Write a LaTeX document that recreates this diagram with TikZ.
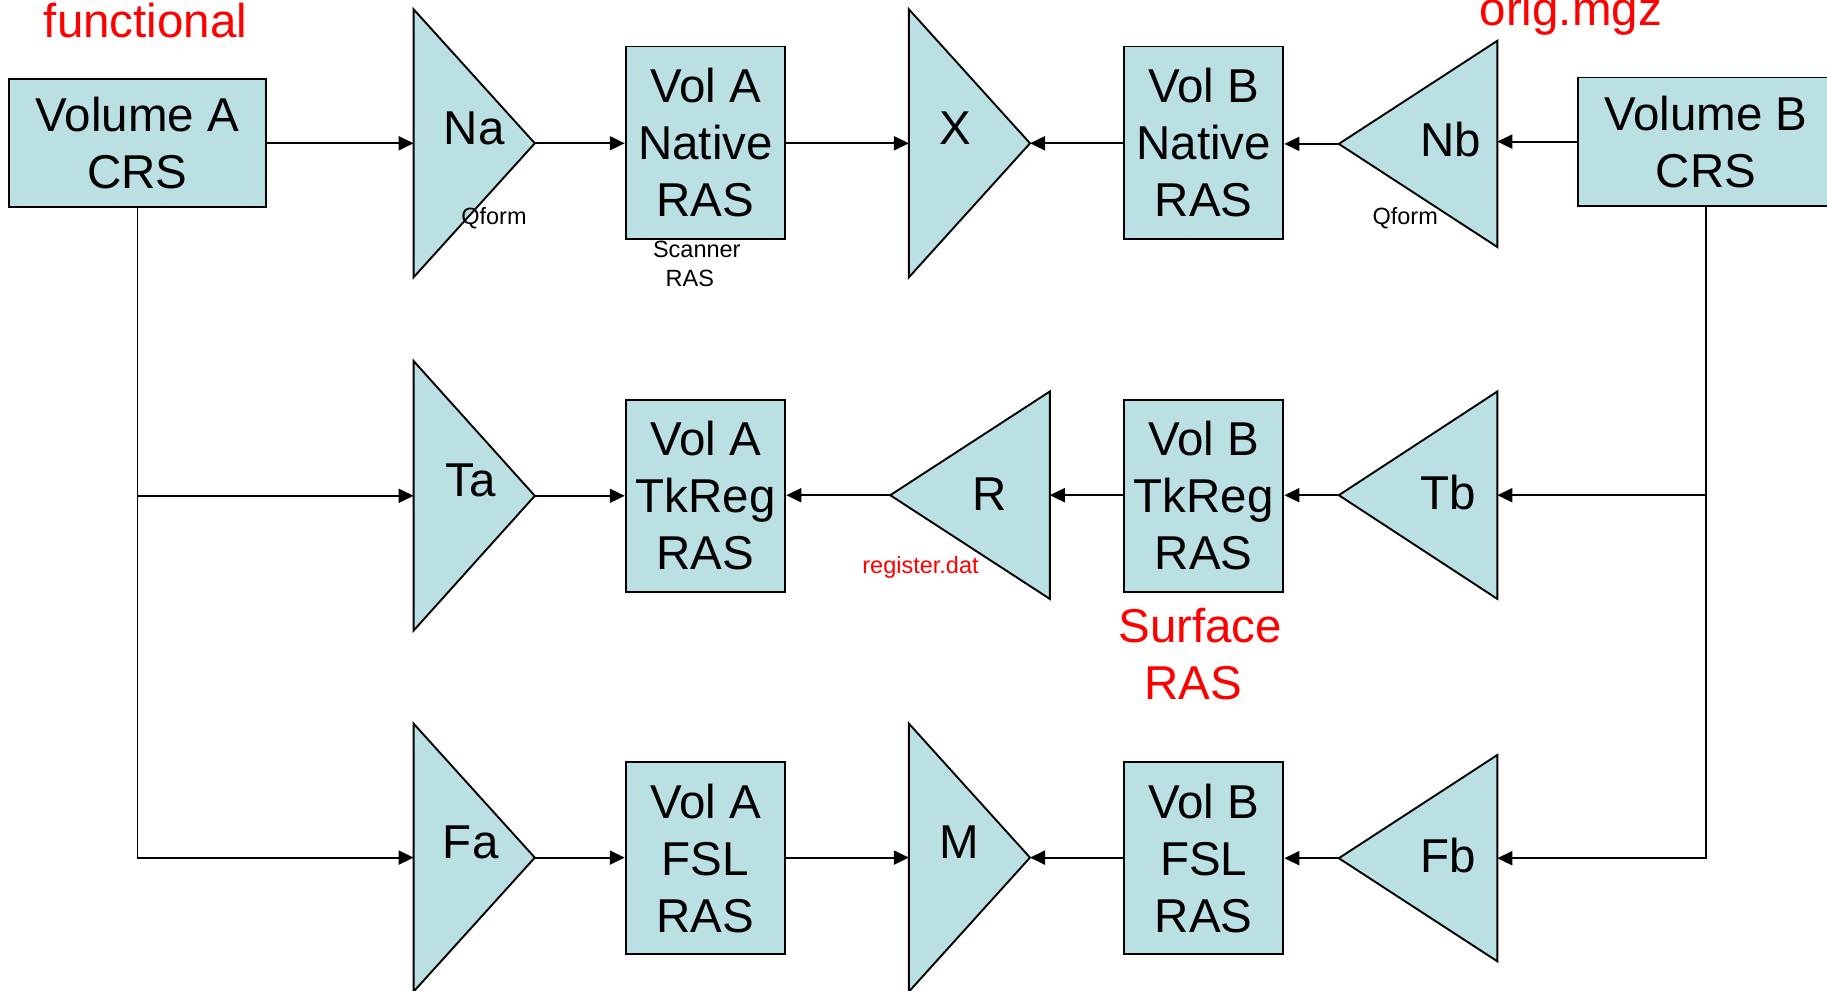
\documentclass[tikz,border=0pt]{standalone}
\usepackage{fontspec}
\setmainfont{Liberation Sans}
\usetikzlibrary{arrows.meta}
\definecolor{boxfill}{RGB}{186,224,227}
\definecolor{lblred}{RGB}{255,0,0}
\begin{document}
\begin{tikzpicture}[x=1pt,y=-1pt,
  big/.style={font=\fontsize{47.5}{57}\selectfont},
  small/.style={font=\fontsize{23.5}{28}\selectfont, inner sep=0pt},
  box/.style={draw=black, line width=1.9pt, fill=boxfill, minimum width=159.6pt, minimum height=192.3pt, inner sep=0pt, align=center, big},
  volbox/.style={box, minimum width=256.4pt, minimum height=128.2pt},
  tri/.style={draw=black, line width=1.9pt, fill=boxfill, line join=miter},
  lbl/.style={big, inner sep=0pt},
  redlbl/.style={big, text=lblred, inner sep=0pt},
  conn/.style={line width=1.9pt, -{Triangle[length=15pt,width=14pt]}},
  plain/.style={line width=1.9pt}
]
\useasboundingbox (0,0) rectangle (1827,990);
\clip (0,0) rectangle (1827,990);
\fill[white] (0,0) rectangle (1827,990);

% ---- triangles (A side, pointing right)
\path[tri] (413.6,9.3) -- (534.8,143.3) -- (413.6,277.3) -- cycle;
\coordinate (Na-in) at (413.6,143.3); \coordinate (Na-out) at (534.8,143.3);
\path[tri] (413.6,361) -- (534.8,495.8) -- (413.6,630.6) -- cycle;
\coordinate (Ta-in) at (413.6,495.8); \coordinate (Ta-out) at (534.8,495.8);
\path[tri] (413.6,723.6) -- (534.8,857.6) -- (413.6,991.6) -- cycle;
\coordinate (Fa-in) at (413.6,857.6); \coordinate (Fa-out) at (534.8,857.6);
\path[tri] (908.9,9.3) -- (1030,143.3) -- (908.9,277.3) -- cycle;
\coordinate (X-in) at (908.9,143.3); \coordinate (X-out) at (1030,143.3);
\path[tri] (908.9,723.6) -- (1030,857.6) -- (908.9,991.6) -- cycle;
\coordinate (M-in) at (908.9,857.6); \coordinate (M-out) at (1030,857.6);

% ---- triangles (B side, pointing left)
\path[tri] (1497.3,40.8) -- (1338.8,143.9) -- (1497.3,247) -- cycle;
\coordinate (Nb-in) at (1497.3,143.9); \coordinate (Nb-out) at (1338.8,143.9);
\path[tri] (1497.3,391.5) -- (1338.8,495.2) -- (1497.3,598.9) -- cycle;
\coordinate (Tb-in) at (1497.3,495.2); \coordinate (Tb-out) at (1338.8,495.2);
\path[tri] (1497.3,755) -- (1338.8,858.2) -- (1497.3,961.3) -- cycle;
\coordinate (Fb-in) at (1497.3,858.2); \coordinate (Fb-out) at (1338.8,858.2);
\path[tri] (1049.8,391.5) -- (890.2,495.2) -- (1049.8,598.9) -- cycle;
\coordinate (R-in) at (1049.8,495.2); \coordinate (R-out) at (890.2,495.2);

% ---- boxes
\node[volbox] (VolA) at (137.5,143.3) {Volume A\\CRS};
\node[volbox] (VolB) at (1705.9,141.6) {Volume B\\CRS};
\node[box] (ANat) at (705.5,142.7) {Vol A\\Native\\RAS};
\node[box] (ATk)  at (705.5,495.8) {Vol A\\TkReg\\RAS};
\node[box] (AFsl) at (705.5,858.1) {Vol A\\FSL\\RAS};
\node[box] (BNat) at (1203.6,142.7) {Vol B\\Native\\RAS};
\node[box] (BTk)  at (1203.6,495.8) {Vol B\\TkReg\\RAS};
\node[box] (BFsl) at (1203.6,858.1) {Vol B\\FSL\\RAS};

% ---- triangle labels
\node[lbl] (lNa) at (474.2,128.6) {Na};
\node[lbl] (lX)  at (955.5,128.2) {X};
\node[lbl] (lNb) at (1450.7,139.8) {Nb};
\node[lbl] (lTa) at (470.7,480) {Ta};
\node[lbl] (lR)  at (989.3,494) {R};
\node[lbl] (lTb) at (1448.4,492.9) {Tb};
\node[lbl] (lFa) at (470.7,842.4) {Fa};
\node[lbl] (lM)  at (959,842.4) {M};
\node[lbl] (lFb) at (1448.4,855.3) {Fb};

% ---- connectors row 1
\draw[conn] (VolA.east) -- (Na-in);
\draw[conn] (Na-out) -- (Na-out -| ANat.west);
\draw[conn] (ANat.east |- X-in) -- (X-in);
\draw[conn] (BNat.west |- X-out) -- (X-out);
\draw[conn] (Nb-out) -- (Nb-out -| BNat.east);
\draw[conn] (VolB.west) -- (VolB.west -| Nb-in);

% ---- connectors row 2
\draw[conn] (Ta-out) -- (Ta-out -| ATk.west);
\draw[conn] (R-out) -- (R-out -| ATk.east);
\draw[conn] (BTk.west |- R-in) -- (R-in);
\draw[conn] (Tb-out) -- (Tb-out -| BTk.east);

% ---- connectors row 3
\draw[conn] (Fa-out) -- (Fa-out -| AFsl.west);
\draw[conn] (AFsl.east |- M-in) -- (M-in);
\draw[conn] (BFsl.west |- M-out) -- (M-out);
\draw[conn] (Fb-out) -- (Fb-out -| BFsl.east);

% ---- trunk lines
\draw[conn] (VolA.south) |- (Fa-in);
\draw[conn] (VolA.south |- Ta-in) -- (Ta-in);
\draw[conn] (VolB.south) |- (Fb-in);
\draw[conn] (VolB.south |- Tb-in) -- (Tb-in);

% ---- small labels
\node[small] (qf1) at (494,217.9) {Qform};
\node[small] (qf2) at (1405.2,217.9) {Qform};
\node[small] (scan1) at (696.8,249.4) {Scanner};
\node[small] (scan2) at (689.8,278.5) {RAS};
\node[small, text=lblred] (regdat) at (920.5,567.5) {register.dat};

% ---- red annotations
\node[redlbl, anchor=base] (func) at (145.6,37.7) {functional};
\node[redlbl, anchor=base] (orig) at (1570.7,25.5) {orig.mgz};
\node[redlbl] (surf1) at (1200.2,625.7) {Surface};
\node[redlbl] (surf2) at (1193.2,682.8) {RAS};
\end{tikzpicture}
\end{document}
